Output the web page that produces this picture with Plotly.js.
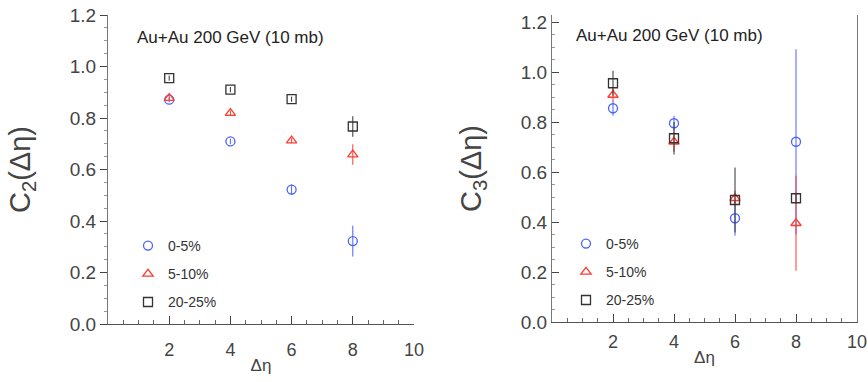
<!DOCTYPE html>
<html><head><meta charset="utf-8">
<script src="https://cdn.plot.ly/plotly-3.0.1.min.js"></script>
<style>html,body{margin:0;padding:0;background:#fff}#chart{width:868px;height:382px}</style>
</head><body><div id="chart"></div>
<script>
const deta = [2, 4, 6, 8];
const centLabels = ["0-5%", "5-10%", "20-25%"];
// C2 values (left panel)
const c2_0_5 = [0.871, 0.709, 0.522, 0.322];
const c2_0_5_err = [0.01, 0.01, 0.02, 0.06];
const c2_5_10 = [0.877, 0.819, 0.712, 0.658];
const c2_5_10_err = [0.01, 0.01, 0.01, 0.04];
const c2_20_25 = [0.955, 0.91, 0.873, 0.767];
const c2_20_25_err = [0.01, 0.01, 0.01, 0.04];
// C3 values (right panel)
const c3_0_5 = [0.855, 0.795, 0.415, 0.721];
const c3_0_5_err = [0.03, 0.03, 0.07, 0.37];
const c3_5_10 = [0.908, 0.721, 0.495, 0.395];
const c3_5_10_err = [0.025, 0.04, 0.03, 0.19];
const c3_20_25 = [0.955, 0.735, 0.488, 0.495];
const c3_20_25_err = [0.05, 0.065, 0.13, 0.02];
const xTicks = [2, 4, 6, 8, 10];
const yTicks = [0, 0.2, 0.4, 0.6, 0.8, 1.0, 1.2];
const yTickText = ["0.0", "0.2", "0.4", "0.6", "0.8", "1.0", "1.2"];
const annText = "Au+Au 200 GeV (10 mb)";

const colors = ["#4a63ff", "#ff3b2f", "#333333"];
const symbols = ["circle-open", "triangle-up-open", "square-open"];
const font = "Liberation Sans, Arial, sans-serif";

function tr(y, e, i, xa, ya, leg) {
  return {
    x: deta, y: y, type: "scatter", mode: "markers",
    name: centLabels[i], xaxis: xa, yaxis: ya, legend: leg,
    legendgroup: leg + i,
    marker: {symbol: symbols[i], size: 9, color: colors[i], line: {width: 1.3, color: colors[i]}},
    error_y: {type: "data", array: e, visible: true, color: colors[i], thickness: 1, width: 0}
  };
}
const data = [
  tr(c2_0_5, c2_0_5_err, 0, "x", "y", "legend"),
  tr(c2_5_10, c2_5_10_err, 1, "x", "y", "legend"),
  tr(c2_20_25, c2_20_25_err, 2, "x", "y", "legend"),
  tr(c3_0_5, c3_0_5_err, 0, "x2", "y2", "legend2"),
  tr(c3_5_10, c3_5_10_err, 1, "x2", "y2", "legend2"),
  tr(c3_20_25, c3_20_25_err, 2, "x2", "y2", "legend2")
];

const W = 868, H = 382;
function xa(l, r, anchor, lstand, tstand) {
  return {
    domain: [l / W, r / W], range: [0, 10], anchor: anchor,
    tickmode: "array", tickvals: xTicks, ticks: "inside", ticklen: 8, tickcolor: "#444",
    minor: {dtick: 0.5, ticks: "inside", ticklen: 4, tickcolor: "#666"},
    showline: true, linecolor: "#555", linewidth: 1.2, showgrid: false, zeroline: false,
    ticklabelstandoff: lstand,
    tickfont: {family: font, size: 18, color: "#444"},
    title: {text: "Δη", font: {family: font, size: 17, color: "#444"}, standoff: tstand}
  };
}
function ya(top, bot, rmax, anchor, title, ticks, mirror) {
  return {
    domain: [1 - bot / H, 1 - top / H], range: [0, rmax], anchor: anchor,
    tickmode: "array", tickvals: yTicks, ticktext: yTickText,
    ticks: ticks, ticklen: 7, tickcolor: "#444",
    minor: {dtick: 0.05, ticks: ticks, ticklen: 3, tickcolor: "#999"},
    showline: true, linecolor: "#777", linewidth: 1, mirror: mirror, showgrid: false, zeroline: false,
    tickfont: {family: font, size: 19, color: "#444"},
    title: {text: title, font: {family: font, size: 29, color: "#444"}, standoff: 30}
  };
}
const layout = {
  width: W, height: H, margin: {l: 0, r: 0, t: 0, b: 0},
  paper_bgcolor: "#fff", plot_bgcolor: "#fff",
  xaxis: xa(108, 414, "y", 9, 0),
  yaxis: ya(15, 324, 1.2, "x", "C<sub>2</sub>(Δη)", "outside", false),
  xaxis2: xa(552, 857, "y2", 3, 0),
  yaxis2: ya(15, 322, 1.228, "x2", "C<sub>3</sub>(Δη)", "inside", true),
  legend: {x: 128 / W, y: 1 - 230 / H, xanchor: "left", yanchor: "top", tracegroupgap: 7,
    font: {family: font, size: 14, color: "#333"}, bgcolor: "rgba(0,0,0,0)"},
  legend2: {x: 566 / W, y: 1 - 228 / H, xanchor: "left", yanchor: "top", tracegroupgap: 7,
    font: {family: font, size: 14, color: "#333"}, bgcolor: "rgba(0,0,0,0)"},
  annotations: [
    {text: annText, xref: "paper", yref: "paper", x: 135 / W, y: 1 - 38 / H, xanchor: "left", yanchor: "middle",
     showarrow: false, font: {family: font, size: 17, color: "#222"}},
    {text: annText, xref: "paper", yref: "paper", x: 574 / W, y: 1 - 35 / H, xanchor: "left", yanchor: "middle",
     showarrow: false, font: {family: font, size: 17, color: "#222"}}
  ],
  showlegend: true
};
Plotly.newPlot("chart", data, layout, {displayModeBar: false, staticPlot: true});
</script></body></html>
